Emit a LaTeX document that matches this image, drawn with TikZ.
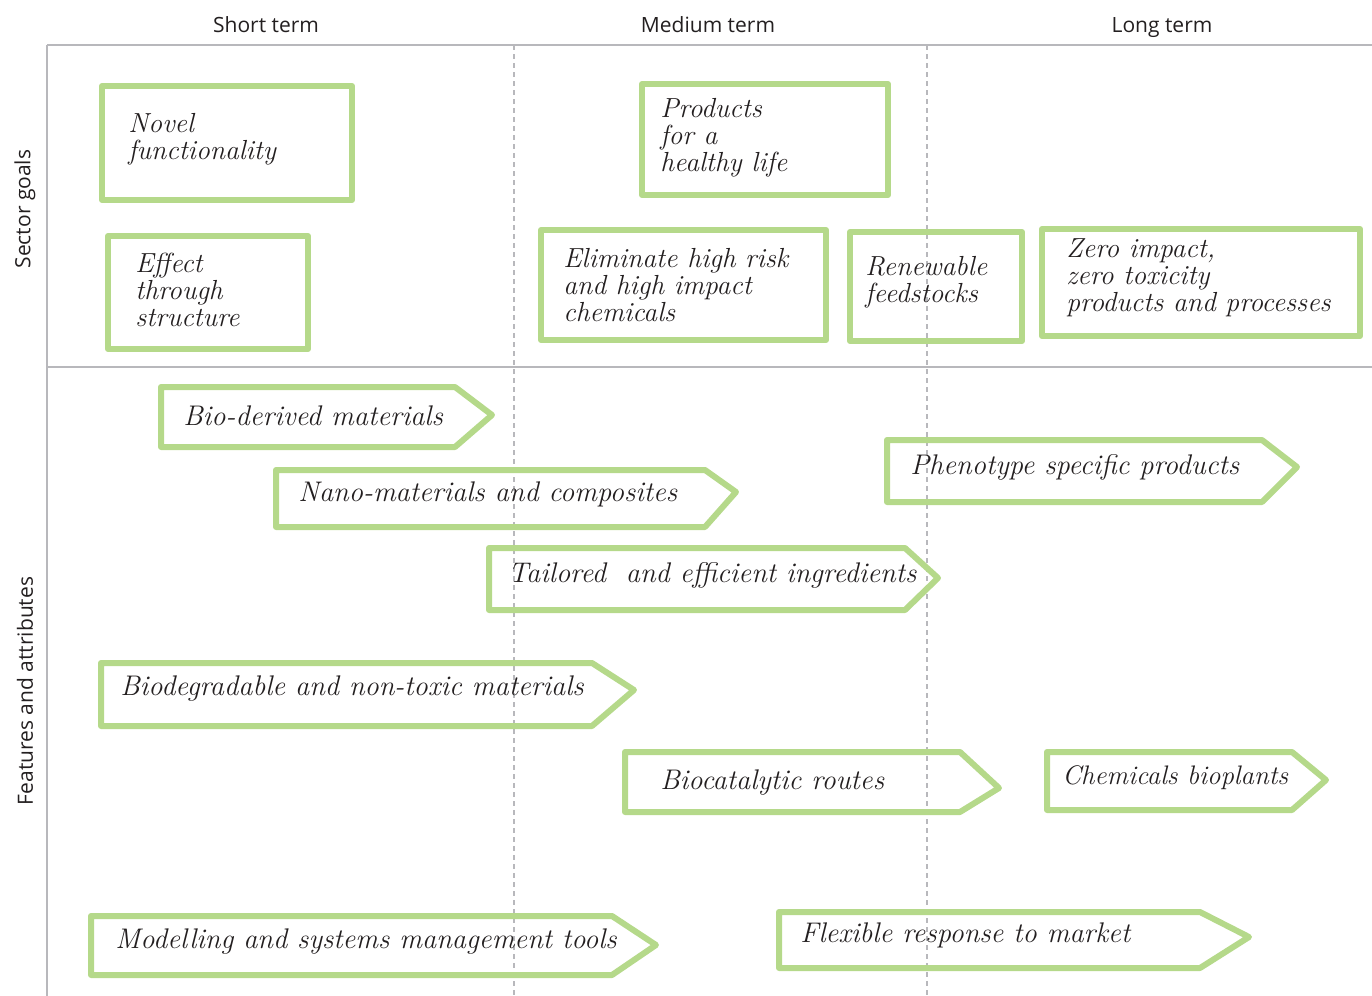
\documentclass[tikz,border=0pt]{standalone}
\usepackage{fontspec}
\setsansfont{Open Sans}
\definecolor{leaf}{HTML}{B5D98A}
\definecolor{gridgray}{HTML}{B8B8BC}
\definecolor{ink}{HTML}{231F20}
\tikzset{
  gridline/.style={draw=gridgray, line width=1pt},
  divline/.style={draw=gridgray, line width=0.6pt, dash pattern=on 2.5pt off 2pt},
  hdr/.style={font=\sffamily\fontsize{10.5}{12}\selectfont, text=ink, inner sep=0pt},
  hand/.style={font=\itshape\fontsize{13.8}{13.6}\selectfont, text=ink, inner sep=0pt, align=left, anchor=west},
  handarrow/.style={font=\itshape\fontsize{14.2}{15}\selectfont, text=ink, inner sep=0pt, anchor=west},
  chalk/.style={draw=leaf, line width=3pt, line join=round, line cap=round}
}
% left top bottom shoulder tipx tipy
\newcommand\chevshape[6]{\draw[chalk] (#1,#2) -- (#4,#2) -- (#5,#6) -- (#4,#3) -- (#1,#3) -- cycle;}
\begin{document}
\begin{tikzpicture}[x=0.5pt,y=-0.5pt]
\useasboundingbox (0,0) rectangle (1372,996);
% grid
\draw[divline] (514,45) -- (514,996);
\draw[divline] (927,45) -- (927,996);
\draw[gridline] (47,45) -- (1372,45);
\draw[gridline] (47,45) -- (47,996);
\draw[gridline] (47,367) -- (1372,367);
% headers
\node[hdr, anchor=base] (hshort) at (266,32) {Short term};
\node[hdr, anchor=base] (hmed) at (708,32) {Medium term};
\node[hdr, anchor=base] (hlong) at (1162,32) {Long term};
\node[hdr, rotate=90] (hsector) at (25,209) {Sector goals};
\node[hdr, rotate=90] (hfeat) at (25,691) {Features and attributes};
% sector goal boxes
\draw[chalk] (102,86) rectangle (352,200);
\node[hand] (novel) at (128,139) {Novel\\functionality};
\draw[chalk] (108,236) rectangle (308,349);
\node[hand] (effect) at (135,290) {Effect\\through\\structure};
\draw[chalk] (642,84) rectangle (888,195);
\node[hand] (products) at (660,138) {Products\\for a\\healthy life};
\draw[chalk] (541,230) rectangle (826,340);
\node[hand] (elim) at (563,285) {Eliminate high risk\\and high impact\\chemicals};
\draw[chalk] (850,232) rectangle (1022,341);
\node[hand] (renew) at (865,282) {Renewable\\feedstocks};
\draw[chalk] (1042,229) rectangle (1360,336);
\node[hand] (zero) at (1066,278) {Zero impact,\\zero toxicity\\products and processes};
% feature arrows
\chevshape{161}{387}{447}{455}{492}{415}
\node[handarrow] (bio) at (183,416) {Bio-derived materials};
\chevshape{276}{470}{527}{705}{736}{492}
\node[handarrow] (nano) at (298,494) {Nano-materials and composites};
\chevshape{489}{548}{610}{905}{938}{578}
\node[handarrow] (tail) at (508,575) {Tailored\ \ and efficient ingredients};
\chevshape{887}{440}{502}{1262}{1297}{467}
\node[handarrow] (pheno) at (910,467) {Phenotype specific products};
\chevshape{101}{663}{726}{592}{634}{690}
\node[handarrow] (biodeg) at (120,689) {Biodegradable and non-toxic materials};
\chevshape{625}{752}{812}{960}{999}{788}
\node[handarrow] (biocat) at (660,783) {Biocatalytic routes};
\chevshape{1047}{752}{810}{1292}{1326}{780}
\node[handarrow, font=\itshape\fontsize{13.4}{15}\selectfont] (chem) at (1062,778) {Chemicals bioplants};
\chevshape{91}{916}{975}{612}{656}{945}
\node[handarrow] (model) at (115,942) {Modelling and systems management tools};
\chevshape{779}{912}{968}{1200}{1249}{937}
\node[handarrow] (flex) at (800,935) {Flexible response to market};
\end{tikzpicture}
\end{document}
